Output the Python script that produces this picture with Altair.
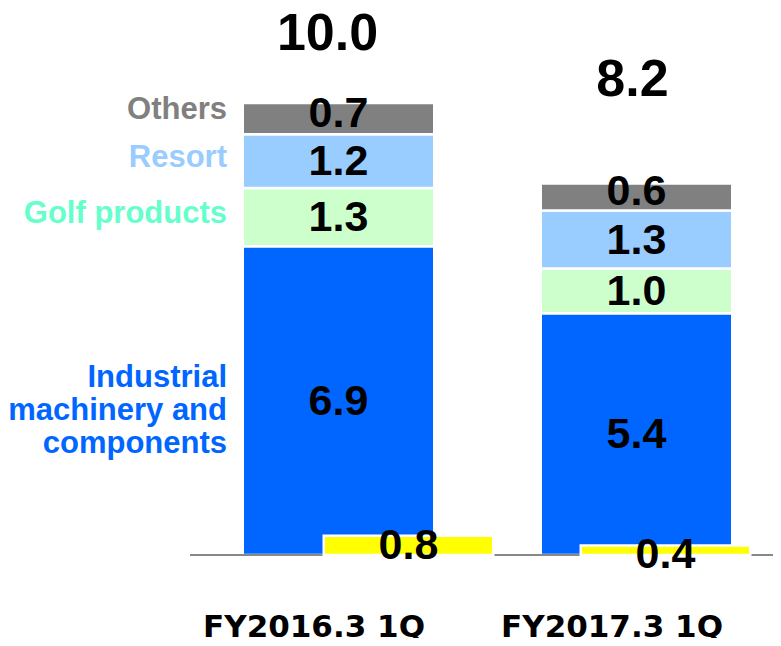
import altair as alt
import pandas as pd

periods = ["FY2016.3 1Q", "FY2017.3 1Q"]
segments = ["Industrial machinery and components", "Golf products", "Resort", "Others"]
seg_labels = ["Industrial\nmachinery and\ncomponents", "Golf products", "Resort", "Others"]
values_2016 = [6.9, 1.3, 1.2, 0.7]
values_2017 = [5.4, 1.0, 1.3, 0.6]
totals = [10.0, 8.2]
op_income = [0.8, 0.4]

fill_colors = ["#0066FF", "#CCFFCC", "#99CCFF", "#808080"]
label_colors = ["#0066FF", "#66FFCC", "#99CCFF", "#808080"]
FONT = "Liberation Sans"

rows = []
for p, vals in zip(periods, [values_2016, values_2017]):
    for i, (s, lab, v) in enumerate(zip(segments, seg_labels, vals)):
        rows.append({"period": p, "segment": s, "seg_label": lab, "order": i, "value": v})
df = pd.DataFrame(rows)
tot_df = pd.DataFrame({"period": periods, "total": totals})
op_df = pd.DataFrame({"period": periods, "op": op_income})

y_main = alt.Scale(domain=[-1.8547, 12.2235], nice=False, zero=False)
y_op = alt.Scale(domain=[-3.4583, 22.7917], nice=False, zero=False)
x_main = alt.X(
    "period:N",
    scale=alt.Scale(type="point", domain=periods, range=[330.5, 628.5], padding=0),
    axis=alt.Axis(
        orient="bottom", domain=False, ticks=False, tickSize=0, grid=False,
        labelFont="DejaVu Sans", labelFontSize=31, labelFontWeight="bold", labelColor="black",
        labelPadding=-11, labelBaseline="middle", labelOffset=-25, labelAngle=0,
        labelLimit=0, title=None,
    ),
)
x_main_noaxis = alt.X(
    "period:N",
    scale=alt.Scale(type="point", domain=periods, range=[330.5, 628.5], padding=0),
    axis=None,
)
x_op = alt.X(
    "period:N",
    scale=alt.Scale(type="point", domain=periods, range=[400.5, 657.5], padding=0),
    axis=None,
)

stacked = alt.Chart(df).transform_stack(
    stack="value", groupby=["period"], sort=[alt.SortField("order")], as_=["y0", "y1"]
).transform_calculate(mid="(datum.y0 + datum.y1) / 2")

bars = stacked.mark_bar(size=191.5, stroke="white", strokeWidth=2.5).encode(
    x=x_main,
    y=alt.Y("y0:Q", scale=y_main, axis=None),
    y2="y1:Q",
    color=alt.Color("segment:N", scale=alt.Scale(domain=segments, range=fill_colors), legend=None),
)

def seg_text(filt, dy):
    return stacked.transform_filter(filt).mark_text(
        font=FONT, fontSize=43, fontWeight="bold", baseline="middle", color="black", dy=dy
    ).encode(
        x=x_main_noaxis,
        y=alt.Y("mid:Q", scale=y_main, axis=None),
        text=alt.Text("value:Q", format=".1f"),
    )

seg_text_main = seg_text(alt.datum.segment != "Others", 1)
seg_text_top = seg_text(alt.datum.segment == "Others", -5)

def left_label(filt, dy):
    return stacked.transform_filter(alt.datum.period == periods[0]).transform_filter(filt).mark_text(
        font=FONT, fontSize=31, fontWeight="bold", align="right", baseline="middle",
        dx=-111.5, dy=dy, lineBreak="\n", lineHeight=33,
    ).encode(
        x=x_main_noaxis,
        y=alt.Y("mid:Q", scale=y_main, axis=None),
        text="seg_label:N",
        fill=alt.Fill("segment:N", scale=alt.Scale(domain=segments, range=label_colors), legend=None),
    )

left_mid = left_label((alt.datum.segment == segments[1]) | (alt.datum.segment == segments[2]), -3)
left_top = left_label(alt.datum.segment == segments[3], -9)
left_multi = left_label(alt.datum.segment == segments[0], -23)

tot_base = alt.Chart(tot_df)
tot1 = tot_base.transform_filter(alt.datum.period == periods[0]).mark_text(
    font=FONT, fontSize=52, fontWeight="bold", baseline="middle", color="black", dy=-74, dx=-11
).encode(x=x_main_noaxis, y=alt.Y("total:Q", scale=y_main, axis=None),
         text=alt.Text("total:Q", format=".1f"))
tot2 = tot_base.transform_filter(alt.datum.period == periods[1]).mark_text(
    font=FONT, fontSize=52, fontWeight="bold", baseline="middle", color="black", dy=-108, dx=-4
).encode(x=x_main_noaxis, y=alt.Y("total:Q", scale=y_main, axis=None),
         text=alt.Text("total:Q", format=".1f"))

baseline = alt.Chart(tot_df).mark_rule(color="#808080", strokeWidth=1.5).encode(
    y=alt.Y(datum=0, scale=y_main, axis=None),
    x=alt.value(182),
    x2=alt.value(773),
)

op_bars = alt.Chart(op_df).mark_bar(size=169.5, color="#FFFF00", stroke="white", strokeWidth=2.5).encode(
    x=x_op, y=alt.Y("op:Q", scale=y_op, axis=None)
)
op_text = alt.Chart(op_df).mark_text(
    font=FONT, fontSize=43, fontWeight="bold", baseline="middle", color="black", dy=10
).encode(x=x_op, y=alt.Y("op:Q", scale=y_op, axis=None), text=alt.Text("op:Q", format=".1f"))

chart = alt.layer(
    alt.layer(bars, baseline),
    alt.layer(op_bars),
    alt.layer(seg_text_main, seg_text_top, left_mid, left_top, left_multi, tot1, tot2),
    alt.layer(op_text),
).resolve_scale(x="independent", y="independent").properties(
    width=765, height=630, padding=0, autosize=alt.AutoSizeParams(type="none")
).configure_view(stroke=None)

chart.save("out.html", embed_options={"renderer": "svg", "actions": False})
